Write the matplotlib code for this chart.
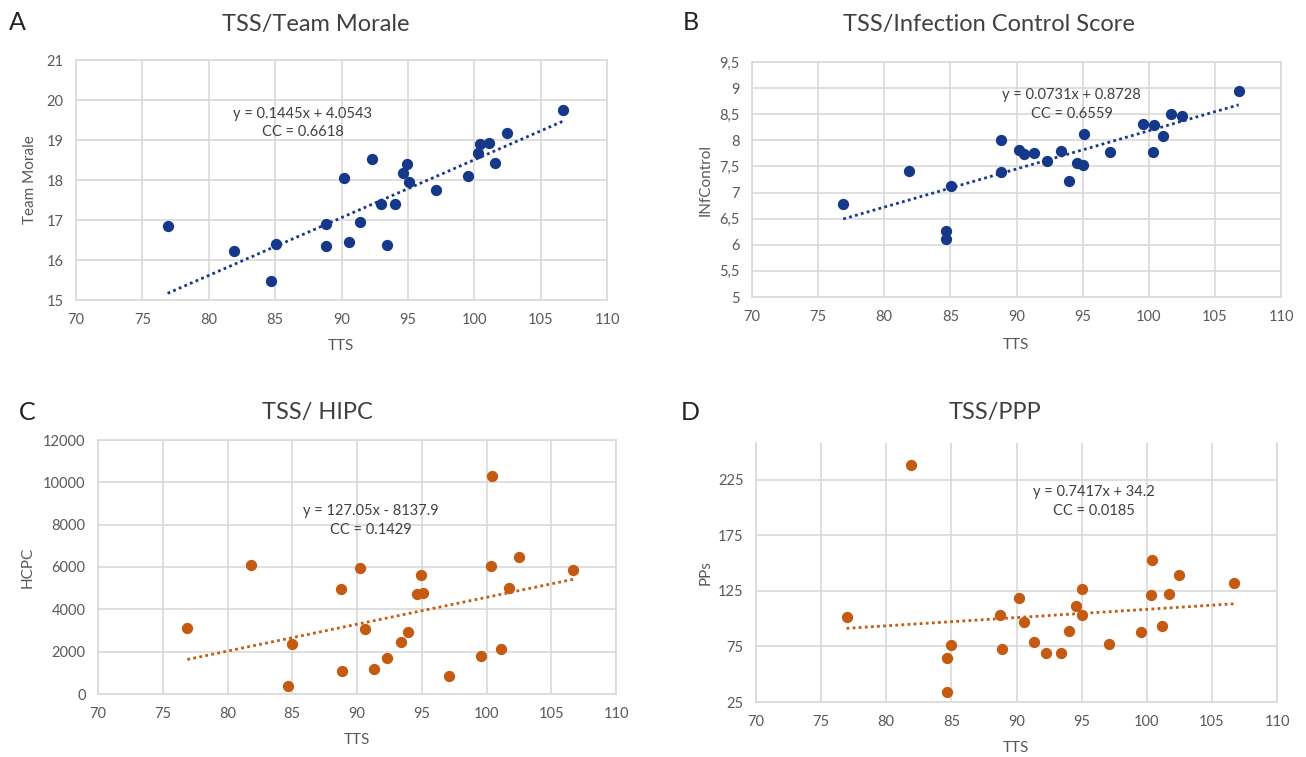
import numpy as np
import matplotlib.pyplot as plt
from matplotlib.ticker import FuncFormatter

plt.rcParams['font.family'] = ['Lato', 'DejaVu Sans']

# values
tts_a = [76.9, 81.9, 84.7, 85.05, 88.8, 88.8, 90.2, 90.6, 91.4, 92.3, 92.95, 93.4,
         94.0, 94.6, 94.95, 95.05, 97.1, 99.5, 100.3, 100.4, 101.1, 101.6, 102.5, 106.7]
morale = [16.84, 16.22, 15.47, 16.40, 16.90, 16.35, 18.04, 16.46, 16.94, 18.53, 17.41, 16.37,
          17.39, 18.18, 18.41, 17.96, 17.75, 18.10, 18.68, 18.89, 18.92, 18.42, 19.17, 19.76]

tts_b = [76.9, 81.9, 84.65, 84.7, 85.05, 88.8, 88.85, 90.2, 90.6, 91.3, 92.3, 93.4,
         94.0, 94.6, 95.0, 95.1, 97.1, 99.6, 100.35, 100.4, 101.1, 101.7, 102.5, 106.8]
infcontrol = [6.78, 7.42, 6.26, 6.11, 7.13, 8.0, 7.39, 7.82, 7.74, 7.75, 7.61, 7.80,
              7.23, 7.56, 7.53, 8.13, 7.77, 8.32, 7.77, 8.29, 8.08, 8.50, 8.46, 8.95]

tts_c = [76.9, 81.85, 84.7, 85.0, 88.75, 88.85, 90.2, 90.6, 91.35, 92.3, 93.4, 93.95,
         94.6, 94.95, 95.1, 97.1, 99.6, 100.4, 100.35, 101.1, 101.7, 102.5, 106.7]
hcpc = [3140, 6090, 390, 2340, 4940, 1110, 5940, 3060, 1170, 1690, 2440, 2910,
        4730, 5610, 4780, 840, 1810, 10310, 6050, 2130, 5030, 6470, 5860]

tts_d = [76.95, 81.9, 84.7, 84.7, 85.0, 88.75, 88.85, 90.2, 90.6, 91.35, 92.3, 93.4,
         94.0, 94.6, 95.0, 95.05, 97.1, 99.55, 100.35, 100.4, 101.15, 101.7, 102.5, 106.7]
pps = [101.5, 238.5, 65, 34, 76, 103, 73, 119, 97, 79, 69, 69,
       89, 111, 127, 103, 77, 88, 121, 153, 93, 122, 139, 132]

slopes = [0.1445, 0.0731, 127.05, 0.7417]
intercepts = [4.0543, 0.8728, -8137.9, 34.2]
ccs = ['0.6618', '0.6559', '0.1429', '0.0185']

titles = ['TSS/Team Morale', 'TSS/Infection Control Score', 'TSS/ HIPC', 'TSS/PPP']
letters = ['A', 'B', 'C', 'D']
ylabels = ['Team Morale', 'INfControl', 'HCPC', 'PPs']
xticks = [70, 75, 80, 85, 90, 95, 100, 105, 110]

BLUE = '#163889'
ORANGE = '#c55a11'
GRID = '#d9d9d9'
TXT = '#404040'
TICK = '#595959'

W, H = 1306, 757
fig = plt.figure(figsize=(W / 100, H / 100), dpi=100)


def ftext(x, y, s, **kw):
    fig.text(x / W, 1 - y / H, s, ha='center', va='center', **kw)


panels = [
    # box = (left, right, top, bottom) in px; other positions in px or axes fraction
    dict(box=(76, 607, 60, 300), ylim=(15, 21), yt=np.arange(15, 22, 1), c=BLUE,
         eq=(0.427, 0.775, 0.700), title=(316, 25), letter=(17, 23), ylab=(30, 180), xlab=(341, 346)),
    dict(box=(752, 1281, 62, 297), ylim=(5, 9.5), yt=np.arange(5, 9.6, 0.5), c=BLUE,
         eq=(0.604, 0.860, 0.779), title=(989, 25), letter=(691, 23), ylab=(706, 180), xlab=(1016, 345)),
    dict(box=(98, 616, 440, 694), ylim=(0, 12000), yt=np.arange(0, 12001, 2000), c=ORANGE,
         eq=(0.526, 0.720, 0.647), title=(317, 413), letter=(27, 413), ylab=(28, 567), xlab=(357, 740)),
    dict(box=(756, 1277, 443, 702), ylim=(25, 258), yt=np.arange(25, 226, 50), c=ORANGE,
         eq=(0.649, 0.812, 0.738), title=(995, 413), letter=(690, 413), ylab=(706, 573), xlab=(1016, 748)),
]
xs_all = [tts_a, tts_b, tts_c, tts_d]
ys_all = [morale, infcontrol, hcpc, pps]

for i, p in enumerate(panels):
    l, r, t, b = p['box']
    ax = fig.add_axes([l / W, 1 - b / H, (r - l) / W, (b - t) / H])
    x = np.array(xs_all[i])
    y = np.array(ys_all[i])
    ax.scatter(x, y, s=66, color=p['c'], zorder=3, linewidths=0)
    xl = np.array([x.min(), x.max()])
    ax.plot(xl, slopes[i] * xl + intercepts[i], color=p['c'], lw=2,
            linestyle=(0, (1, 1.2)), zorder=2)

    ax.set_xlim(70, 110)
    ax.set_ylim(*p['ylim'])
    ax.set_xticks(xticks)
    ax.set_yticks(p['yt'])
    ax.grid(True, color=GRID, lw=1.2)
    ax.set_axisbelow(True)
    for side, sp in ax.spines.items():
        sp.set_color(GRID)
        sp.set_linewidth(1.2)
    if i == 3:
        ax.spines['top'].set_visible(False)
    ax.tick_params(length=0, labelsize=10.5, colors=TICK, pad=9)
    if i == 1:
        ax.yaxis.set_major_formatter(FuncFormatter(lambda v, _: ('%g' % v).replace('.', ',')))
    else:
        ax.yaxis.set_major_formatter(FuncFormatter(lambda v, _: '%g' % v))

    sign = '+' if intercepts[i] >= 0 else '-'
    eq = 'y = %gx %s %g' % (slopes[i], sign, abs(intercepts[i]))
    ex, ey1, ey2 = p['eq']
    ax.text(ex, ey1, eq, transform=ax.transAxes, ha='center', va='center', fontsize=10.5, color=TXT)
    ax.text(ex, ey2, 'CC = ' + ccs[i], transform=ax.transAxes, ha='center', va='center',
            fontsize=10.5, color=TXT)

    ftext(*p['title'], titles[i], fontsize=17, color=TXT)
    ftext(*p['letter'], letters[i], fontsize=18, color='#222222')
    ftext(*p['ylab'], ylabels[i], fontsize=11, color=TICK, rotation=90)
    ftext(*p['xlab'], 'TTS', fontsize=11, color=TICK)

fig.savefig('out.png', dpi=100, facecolor='white')
